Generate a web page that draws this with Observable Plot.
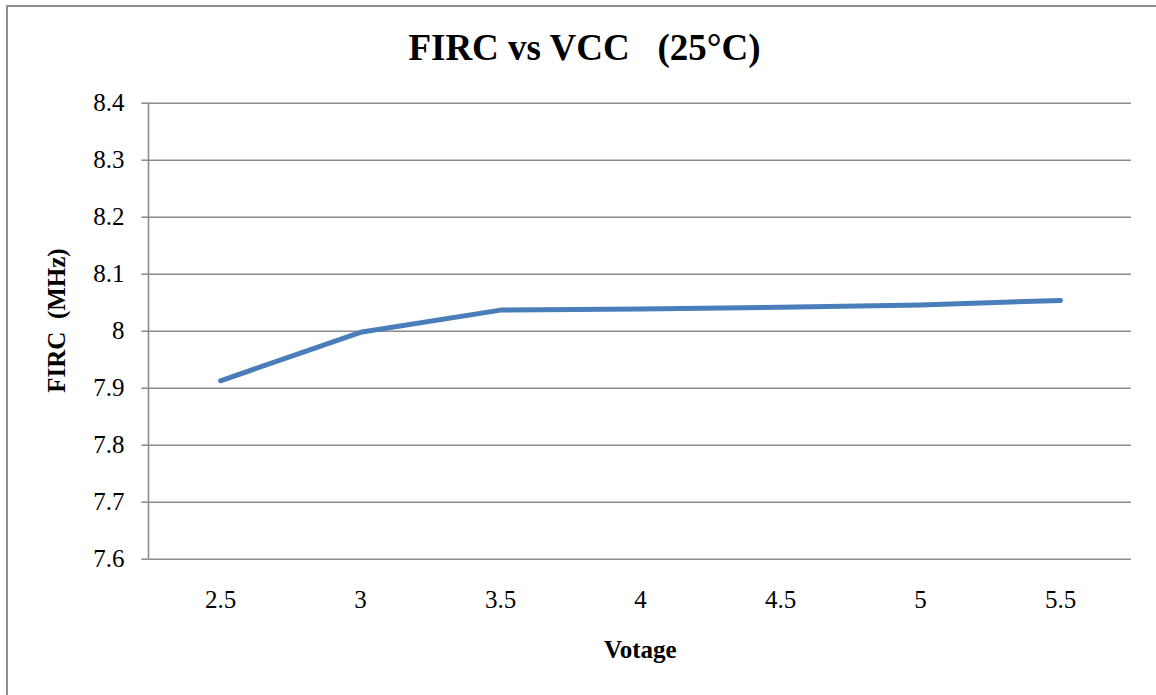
<!DOCTYPE html>
<html>
<head>
<meta charset="utf-8">
<script src="https://cdn.jsdelivr.net/npm/d3@7"></script>
<script src="https://cdn.jsdelivr.net/npm/@observablehq/plot@0.6"></script>
<style>
  html, body { margin: 0; padding: 0; background: #fff; overflow: hidden; width: 1156px; height: 695px; }
  #frame { position: absolute; left: 6px; top: 5px; width: 1300px; height: 900px; border: 2px solid #8f8f8f; box-sizing: border-box; }
  #title { position: absolute; left: 0; top: 29px; width: 1169px; text-align: center; white-space: pre;
           font-family: "Liberation Serif", "Times New Roman", serif; font-weight: bold; font-size: 37px; line-height: 37px; color: #000; }
  #chart { position: absolute; left: 0; top: 80px; }
  #chart svg text { font-family: "Liberation Serif", "Times New Roman", serif; font-variant: normal; }
</style>
</head>
<body>
<div id="frame"></div>
<div id="title">FIRC vs VCC   (25°C)</div>
<div id="chart"></div>
<script>
// Data
const voltages = ["2.5", "3", "3.5", "4", "4.5", "5", "5.5"];
const firc = [7.913, 7.998, 8.037, 8.039, 8.042, 8.046, 8.054];
const yTicks = [7.6, 7.7, 7.8, 7.9, 8.0, 8.1, 8.2, 8.3, 8.4];
const yTickLabels = ["7.6", "7.7", "7.8", "7.9", "8", "8.1", "8.2", "8.3", "8.4"];
const title = "FIRC vs VCC   (25°C)";
const xTitle = "Votage";
const yTitle = "FIRC  (MHz)";

const data = voltages.map((v, i) => ({v, f: firc[i]}));
const gridColor = "#8c8c8c";
const font = '"Liberation Serif", "Times New Roman", serif';

const plot = Plot.plot({
  width: 1156,
  height: 615,
  marginLeft: 148.5,
  marginRight: 25,
  marginTop: 22.7,
  marginBottom: 136.3,
  style: { fontFamily: font, fontSize: "25px", color: "#000", background: "transparent", overflow: "visible" },
  x: { type: "point", domain: voltages, padding: 0.5 },
  y: { domain: [7.6, 8.4] },
  marks: [
    Plot.gridY(yTicks, { stroke: gridColor, strokeOpacity: 1, strokeWidth: 1.6 }),
    Plot.axisY(yTicks, { tickSize: 7, tickPadding: 17.5, stroke: gridColor, strokeWidth: 1.6, label: null,
      tickFormat: (d) => yTickLabels[yTicks.indexOf(d)], fill: "#000", fontFamily: font, fontSize: 25 }),
    Plot.axisX({ tickSize: 0, tickPadding: 31.5, label: null, fill: "#000", fontFamily: font, fontSize: 25 }),
    Plot.lineY(data, { x: "v", y: "f", stroke: "#4a7ebb", strokeWidth: 5, strokeLinecap: "round", strokeLinejoin: "round" }),
    Plot.text([xTitle], { frameAnchor: "bottom", textAnchor: "middle", lineAnchor: "middle", dy: 91,
      fontWeight: "bold", fontSize: 25, fill: "#000", fontFamily: font }),
    Plot.text([yTitle], { frameAnchor: "left", textAnchor: "middle", lineAnchor: "middle", dx: -92.5, dy: -10.7, rotate: -90,
      fontWeight: "bold", fontSize: 25, fill: "#000", fontFamily: font })
  ]
});

// left axis line along the plot frame edge, from the scales
const xr = plot.scale("x").range;
const yr = plot.scale("y").range;
d3.select(plot).append("line")
  .attr("x1", xr[0]).attr("x2", xr[0])
  .attr("y1", yr[0]).attr("y2", yr[1])
  .attr("stroke", gridColor).attr("stroke-width", 1.6);

document.getElementById("chart").appendChild(plot);
</script>
</body>
</html>
